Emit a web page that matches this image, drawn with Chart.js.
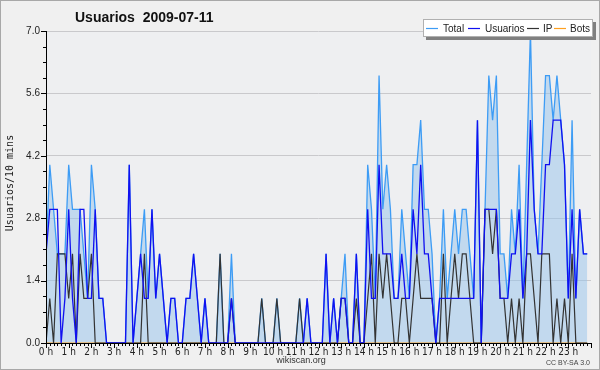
<!DOCTYPE html>
<html><head><meta charset="utf-8">
<script src="https://cdn.jsdelivr.net/npm/chart.js@4/dist/chart.umd.min.js"></script>
<style>html,body{margin:0;padding:0;background:#f0f0f0;}#wrap{width:600px;height:370px;}</style>
</head><body><div id="wrap"><canvas id="c" width="600" height="370"></canvas></div>
<script>
const hourLabels = ["0 h","1 h","2 h","3 h","4 h","5 h","6 h","7 h","8 h","9 h","10 h","11 h","12 h","13 h","14 h","15 h","16 h","17 h","18 h","19 h","20 h","21 h","22 h","23 h"];
const yTickLabels = ["0.0","1.4","2.8","4.2","5.6","7.0"];
const seriesNames = ["Total","Usuarios","IP","Bots"];
const total = [
2,4,3,2,2,2,4,3,3,3,2,1,
4,3,1,1,0,0,0,0,0,0,4,0,
1,2,3,1,3,1,2,1,0,1,1,0,
0,1,1,2,1,0,1,0,0,0,2,0,
0,2,0,0,0,0,0,0,0,1,0,0,
0,1,0,0,0,0,0,1,0,1,0,0,
0,0,2,0,1,0,1,2,0,0,2,0,
0,4,3,1,6,3,4,3,1,1,3,2,
1,4,4,5,3,3,2,0,1,3,1,2,
3,2,3,3,2,1,5,0,3,6,5,6,
2,2,1,3,2,4,1,4,7,3,2,4,
6,6,5,6,5,4,1,5,1,3,2,2];
const usuarios = [
2,3,3,3,0,1,3,1,0,3,3,1,
1,3,1,1,0,0,0,0,0,0,4,0,
1,2,1,1,3,1,2,1,0,1,1,0,
0,1,1,2,1,0,1,0,0,0,0,0,
0,1,0,0,0,0,0,0,0,0,0,0,
0,0,0,0,0,0,0,0,0,1,0,0,
0,0,2,0,1,0,1,1,0,0,2,0,
0,3,1,1,4,2,2,2,1,1,2,1,
1,3,2,4,2,2,1,0,1,1,1,1,
1,1,1,1,1,1,5,0,3,3,3,3,
1,1,1,2,2,3,1,2,5,3,2,2,
4,4,5,5,5,4,1,3,1,3,2,2];
const ip = [
0,1,0,2,2,2,1,2,0,2,1,1,
2,0,0,0,0,0,0,0,0,0,0,0,
0,0,2,0,0,0,0,0,0,0,0,0,
0,0,0,0,0,0,0,0,0,0,2,0,
0,1,0,0,0,0,0,0,0,1,0,0,
0,1,0,0,0,0,0,1,0,0,0,0,
0,0,0,0,0,0,1,1,0,0,1,0,
0,1,2,0,2,1,2,1,0,0,1,1,
0,1,2,1,1,1,1,0,0,2,0,1,
2,1,2,2,1,0,0,0,3,3,2,3,
1,1,0,1,0,1,0,2,2,1,0,2,
2,2,0,1,0,1,0,2,0,0,0,0];
const bots = [
0,0,0,0,0,0,0,0,0,0,0,0,
0,0,0,0,0,0,0,0,0,0,0,0,
0,0,0,0,0,0,0,0,0,0,0,0,
0,0,0,0,0,0,0,0,0,0,0,0,
0,0,0,0,0,0,0,0,0,0,0,0,
0,0,0,0,0,0,0,0,0,0,0,0,
0,0,0,0,0,0,0,0,0,0,0,0,
0,0,0,0,0,0,0,0,0,0,0,0,
0,0,0,0,0,0,0,0,0,0,0,0,
0,0,0,0,0,0,0,0,0,0,0,0,
0,0,0,0,0,0,0,0,0,0,0,0,
0,0,0,0,0,0,0,0,0,0,0,0];

const colors = {Total:'#3d9cf5', Usuarios:'#1010f0', IP:'#333333', Bots:'#ffa020'};
const pts = arr => arr.map((v,i)=>({x:i,y:v}));
const FONT = '"Liberation Sans", Arial, sans-serif';
const NARROW = '"Liberation Sans Narrow", "DejaVu Sans Condensed", "Liberation Sans", sans-serif';

const deco = {
  id:'deco',
  beforeDraw(chart){
    const c = chart.ctx;
    c.save();
    c.fillStyle = '#f0f0f0';
    c.fillRect(0,0,chart.width,chart.height);
    c.strokeStyle = '#a8a8a8'; c.lineWidth = 1;
    c.strokeRect(0.5,0.5,chart.width-1,chart.height-1);
    const a = chart.chartArea;
    c.fillStyle = '#eeeff1';
    c.fillRect(a.left,a.top,a.right-a.left,a.bottom-a.top);
    c.restore();
  },
  afterDatasetsDraw(chart){
    const c = chart.ctx, a = chart.chartArea;
    const xs = chart.scales.x, ys = chart.scales.y;
    c.save();
    c.strokeStyle = '#000'; c.lineWidth = 1;
    c.beginPath();
    c.moveTo(Math.round(a.left)+0.5, a.top); c.lineTo(Math.round(a.left)+0.5, Math.round(a.bottom)+0.5);
    c.lineTo(a.right, Math.round(a.bottom)+0.5);
    c.stroke();
    c.beginPath();
    for(let i=0;i<=144;i++){
      const px = Math.round(xs.getPixelForValue(i))+0.5;
      const len = (i%6===0)?5:3;
      c.moveTo(px, Math.round(a.bottom)); c.lineTo(px, Math.round(a.bottom)+len);
    }
    for(let k=0;k<=20;k++){
      const v = k*0.35;
      const py = Math.round(ys.getPixelForValue(v))+0.5;
      const len = (k%4===0)?5:3;
      c.moveTo(Math.round(a.left)+1, py); c.lineTo(Math.round(a.left)-len, py);
    }
    c.stroke();
    c.restore();
  },
  afterDraw(chart){
    const c = chart.ctx;
    c.save();
    c.fillStyle = '#111';
    c.font = 'bold 14px ' + FONT;
    c.textBaseline = 'alphabetic'; c.textAlign = 'left';
    c.fillText('Usuarios  2009-07-11', 75, 22);
    c.save();
    c.translate(10, 183);
    c.rotate(-Math.PI/2);
    c.font = '10px "DejaVu Sans Mono", monospace';
    c.textAlign = 'center'; c.textBaseline = 'middle';
    c.fillStyle = '#222';
    c.fillText('Usuarios/10 mins', 0, 0);
    c.restore();
    c.font = '9px ' + FONT;
    c.textAlign = 'center'; c.textBaseline = 'middle';
    c.fillStyle = '#333';
    c.fillText('wikiscan.org', 301, 361);
    c.font = '7px ' + FONT;
    c.textAlign = 'right';
    c.fillStyle = '#444';
    c.fillText('CC BY-SA 3.0', 590, 363);
    const lx = 423, ly = 19, lw = 170, lh = 18;
    c.fillStyle = '#808080';
    c.fillRect(lx+3, ly+3, lw, lh);
    c.fillStyle = '#ffffff';
    c.fillRect(lx, ly, lw, lh);
    c.strokeStyle = '#b0b0b0';
    c.strokeRect(lx+0.5, ly+0.5, lw-1, lh-1);
    c.font = '10px ' + FONT;
    c.textAlign = 'left'; c.textBaseline = 'middle';
    const items = [[426,443],[468,485],[527,543],[554,570]];
    seriesNames.forEach((n,i)=>{
      const [x0,tx] = items[i];
      c.strokeStyle = colors[n]; c.lineWidth = 1.2;
      c.beginPath(); c.moveTo(x0, ly+lh/2+0.5); c.lineTo(x0+12, ly+lh/2+0.5); c.stroke();
      c.fillStyle = '#222';
      c.fillText(n, tx, ly+lh/2+1);
    });
    c.restore();
  }
};

new Chart(document.getElementById('c'), {
  type:'line',
  data:{datasets:[
    {label:seriesNames[0], data:pts(total), borderColor:colors.Total, backgroundColor:'rgba(150,195,235,0.5)', fill:'origin', borderWidth:1.3, pointRadius:0, tension:0, order:4},
    {label:seriesNames[3], data:pts(bots), borderColor:colors.Bots, borderWidth:1, pointRadius:0, tension:0, fill:false, order:3},
    {label:seriesNames[2], data:pts(ip), borderColor:colors.IP, borderWidth:1.2, pointRadius:0, tension:0, fill:false, order:2},
    {label:seriesNames[1], data:pts(usuarios), borderColor:colors.Usuarios, borderWidth:1.3, pointRadius:0, tension:0, fill:false, order:1}
  ]},
  options:{
    responsive:false, animation:false, events:[],
    layout:{padding:{left:0,right:9,top:31,bottom:0}},
    plugins:{legend:{display:false}, title:{display:false}, tooltip:{enabled:false}},
    scales:{
      x:{type:'linear', min:0, max:144,
        afterFit(s){ s.height = 27; },
        border:{display:false},
        grid:{display:false, drawTicks:false, tickLength:0},
        ticks:{stepSize:6, autoSkip:false, maxRotation:0, padding:3, color:'#222', font:{size:10, family:NARROW},
          callback:(v)=> (v%6===0 && v/6 < hourLabels.length) ? hourLabels[v/6] : ''}
      },
      y:{type:'linear', min:0, max:7,
        afterFit(s){ s.width = 46; },
        border:{display:false},
        grid:{color:(ctx)=> (ctx.tick && ctx.tick.value===0) ? 'rgba(0,0,0,0)' : '#c9c9cc', drawTicks:false, lineWidth:1},
        afterBuildTicks(s){ s.ticks = yTickLabels.map(t=>({value:parseFloat(t)})); },
        ticks:{padding:6, color:'#222', font:{size:10, family:FONT},
          callback:(v,i)=> yTickLabels[i]}
      }
    }
  },
  plugins:[deco]
});
</script></body></html>
